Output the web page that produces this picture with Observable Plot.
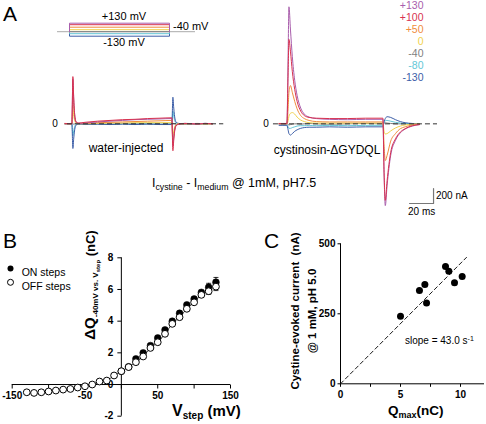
<!DOCTYPE html>
<html><head><meta charset="utf-8">
<script src="https://cdn.jsdelivr.net/npm/d3@7"></script>
<script src="https://cdn.jsdelivr.net/npm/@observablehq/plot@0.6"></script>
<style>
html,body{margin:0;padding:0;background:#fff;}
#fig{position:relative;width:486px;height:424px;overflow:hidden;font-family:Arial,"Liberation Sans",sans-serif;color:#000;}
.t{position:absolute;white-space:nowrap;line-height:1;}
.rot{position:absolute;white-space:nowrap;text-align:center;transform:translate(-50%,-50%) rotate(-90deg);}
.s{font-size:0.7em;vertical-align:-0.3em;line-height:0;}
.u{font-size:0.7em;vertical-align:0.45em;line-height:0;}
</style></head><body><div id="fig"></div>
<script>
// ---------- DATA ----------
const voltages = [130, 100, 50, 0, -40, -80, -130];
const voltageLabels = ["+130", "+100", "+50", "0", "-40", "-80", "-130"];
const voltageColors = ["#a95eac", "#d8324f", "#f08c3c", "#f1d24c", "#7f7f7f", "#63c7d7", "#3c5ea8"];
const holdingMV = -40, stepStartMs = 0, stepEndMs = 80;

// water-injected oocyte traces (nA) vs time (ms)
const tWater = [-6, -0.5, 0.3, 1, 2, 3, 5, 10, 20, 30, 40, 50, 60, 70, 79.5, 80.3, 81, 82, 83, 85, 90, 100, 106, 112];
const water_p130 = [0, 0, 600, 320, 80, 20, 5, 10, 25, 35, 45, 55, 60, 65, 70, -300, -180, -60, -20, -5, 5, 0, 5, 0];
const water_p100 = [5, 0, 630, 330, 85, 25, 10, 20, 35, 45, 55, 60, 70, 75, 80, -360, -220, -70, -25, -5, 5, -5, 5, 0];
const water_p50  = [0, 0, 380, 210, 55, 15, 5, 5, 15, 20, 25, 30, 35, 40, 45, -270, -160, -50, -15, 0, 0, 5, 0, 0];
const water_0    = [0, 0, 180, 100, 30, 5, 0, 0, 5, 10, 10, 15, 15, 15, 15, -150, -90, -30, -10, 0, 0, 0, 0, 0];
const water_m40  = [0, 5, 0, -5, 0, 5, 0, 5, 0, -5, 5, 0, 5, -5, 0, 0, 5, 0, -5, 0, 5, 0, -5, 0];
const water_m80  = [0, 0, -160, -90, -25, -5, 0, -5, 0, -5, 0, -5, 0, -5, 0, 170, 100, 30, 10, 0, 0, -5, 0, 0];
const water_m130 = [0, 0, -330, -190, -55, -15, -5, -10, -5, -10, -5, -10, -5, -10, -10, 355, 210, 65, 20, 5, -5, 0, 5, 0];

// cystinosin-ΔGYDQL traces (nA) vs time (ms)
const tCys = [-7, -0.5, 0.5, 1.2, 2.5, 4, 6, 8, 11, 14, 18, 24, 35, 50, 65, 79.5, 80.5, 81.5, 83, 86, 90, 94, 98, 104, 110];
const cys_p130 = [0, 0, 900, 1560, 1250, 900, 580, 380, 210, 130, 90, 70, 60, 55, 60, 60, -700, -1090, -820, -420, -220, -120, -70, -30, -10];
const cys_p100 = [5, 5, 650, 1125, 960, 700, 460, 300, 170, 110, 85, 75, 70, 70, 75, 75, -650, -1020, -760, -380, -200, -110, -65, -25, -10];
const cys_p50  = [0, 0, 200, 420, 510, 420, 300, 200, 110, 70, 45, 30, 25, 25, 25, 25, -300, -490, -420, -230, -130, -65, -40, -15, -5];
const cys_0    = [0, 0, 40, 100, 140, 150, 130, 90, 50, 30, 15, 10, 10, 10, 10, 10, -100, -135, -130, -95, -55, -30, -15, -5, 0];
const cys_m40  = [0, 0, -10, -15, -10, -5, 0, 0, -5, 0, 5, 0, -5, 0, 5, 0, 10, 15, 10, 5, 0, 0, 0, 0, 0];
const cys_m80  = [-10, -10, -40, -60, -60, -50, -40, -30, -25, -25, -20, -25, -20, -25, -20, -20, 20, 40, 45, 35, 20, 10, 5, 0, 0];
const cys_m130 = [-20, -20, -80, -130, -150, -130, -100, -80, -60, -50, -45, -45, -40, -45, -40, -40, 30, 70, 95, 85, 55, 30, 15, 5, 0];

const scaleBarMs = 20, scaleBarNA = 200;

// Panel B: ΔQ (nC) vs Vstep (mV)
const offV = [-130, -120, -110, -100, -90, -80, -70, -60, -50, -40, -30, -20, -10, 0, 10, 20, 30, 40, 50, 60, 70, 80, 90, 100, 110, 120, 130];
const offQ = [-0.49, -0.53, -0.49, -0.44, -0.38, -0.32, -0.28, -0.19, -0.11, 0.0, 0.19, 0.25, 0.57, 0.84, 1.1, 1.41, 1.77, 2.31, 2.67, 3.2, 3.83, 4.25, 4.78, 5.19, 5.66, 5.89, 6.18];
const offErr = [0, 0, 0, 0, 0, 0, 0, 0, 0, 0, 0, 0, 0, 0, 0, 0, 0, 0, 0, 0, 0, 0, 0, 0, 0, 0.2, 0.25];
const onV = [0, 10, 20, 30, 40, 50, 60, 70, 80, 90, 100, 110, 120, 130];
const onQ = [0.84, 1.12, 1.62, 2.0, 2.46, 2.94, 3.45, 4.0, 4.5, 5.03, 5.4, 5.82, 6.14, 6.46];
const onErr = [0, 0, 0, 0, 0, 0, 0, 0, 0, 0, 0, 0, 0.25, 0.3];
const bXTicks = [-150, -100, -50, 0, 50, 100, 150];
const bXLabels = [-150, -50, 50, 150];
const bYTicks = [-2, 0, 2, 4, 6, 8];

// Panel C: current (nA) vs Qmax (nC)
const qMax = [5.0, 6.58, 7.03, 7.17, 8.75, 9.03, 9.5, 10.14];
const cysCurrent = [241, 333, 355, 289, 419, 402, 361, 383];
const slopeC = 43.0;
const slopeLineEnd = 10.5;
const cXTicks = [0, 2.5, 5, 7.5, 10];
const cXLabels = [0, 5, 10];
const cYTicks = [0, 250, 500];

// ---------- HELPERS ----------
const fig = document.getElementById("fig");
const FONT = "Arial, 'Liberation Sans', sans-serif";
function addPlot(opts, left, top) {
  const svg = Plot.plot({...opts, style: {background: "transparent", overflow: "visible", fontFamily: FONT}});
  svg.style.position = "absolute";
  svg.style.left = left + "px";
  svg.style.top = top + "px";
  fig.appendChild(svg);
}
function addText(html, x, baseline, size, o = {}) {
  const d = document.createElement("div");
  d.className = "t";
  d.innerHTML = html;
  d.style.left = x + "px";
  d.style.top = (baseline - 0.847 * size) + "px";
  d.style.fontSize = size + "px";
  d.style.fontWeight = o.weight || "normal";
  d.style.color = o.color || "#000";
  if (o.anchor === "middle") d.style.transform = "translateX(-50%)";
  if (o.anchor === "end") d.style.transform = "translateX(-100%)";
  fig.appendChild(d);
}
function addRot(html, cx, cy, size, lh, weight) {
  const d = document.createElement("div");
  d.className = "rot";
  d.innerHTML = html;
  d.style.left = cx + "px";
  d.style.top = cy + "px";
  d.style.fontSize = size + "px";
  d.style.lineHeight = lh + "px";
  d.style.fontWeight = weight || "normal";
  fig.appendChild(d);
}
const tickDown = {draw(c) { c.moveTo(0, 0); c.lineTo(0, 4); }};
const tickDown3 = {draw(c) { c.moveTo(0, 0); c.lineTo(0, 3); }};
const tickLeft = {draw(c) { c.moveTo(0, 0); c.lineTo(-4, 0); }};
const tickLeft3 = {draw(c) { c.moveTo(0, 0); c.lineTo(-3, 0); }};
const capH = {draw(c) { c.moveTo(-2.5, 0); c.lineTo(2.5, 0); }};

function traceMarks(times, series) {
  const order = [4, 5, 6, 3, 2, 0, 1];
  return order.map(k => Plot.line(times.map((t, j) => ({t, i: series[k][j]})),
    {x: "t", y: "i", stroke: voltageColors[k], strokeWidth: 1, curve: "monotone-x"}));
}

// ---------- PANEL A: protocol ----------
const protoLines = voltages.map((v, k) => ({
  k, pts: [{t: stepStartMs, v: holdingMV}, {t: stepStartMs, v}, {t: stepEndMs, v}, {t: stepEndMs, v: holdingMV}]
}));
addPlot({
  width: 160, height: 35, margin: 0,
  x: {domain: [-15.2, 112.8], axis: null},
  y: {domain: [-316, 384], axis: null},
  marks: [
    Plot.ruleY([holdingMV], {x1: -9.6, x2: 100.8, stroke: "#aaa", strokeWidth: 1}),
    ...[6, 5, 4, 3, 2, 1, 0].map(k => Plot.line(protoLines[k].pts, {x: "t", y: "v", stroke: voltageColors[k], strokeWidth: 1}))
  ]
}, 50, 10);

// ---------- PANEL A: water-injected ----------
addPlot({
  width: 170, height: 100, margin: 0,
  x: {domain: [-8, 128], axis: null},
  y: {domain: [-490, 845], axis: null},
  marks: [
    ...traceMarks(tWater, [water_p130, water_p100, water_p50, water_0, water_m40, water_m80, water_m130]),
    Plot.ruleY([0], {x1: -4, x2: 121, stroke: "#333", strokeWidth: 1, strokeDasharray: "5,3"})
  ]
}, 62, 60);

// ---------- PANEL A: cystinosin ----------
const sbX = 121.7, sbY = -1062;
addPlot({
  width: 200, height: 215, margin: 0,
  x: {domain: [-20.83, 145.83], axis: null},
  y: {domain: [-1222, 1644], axis: null},
  marks: [
    ...traceMarks(tCys, [cys_p130, cys_p100, cys_p50, cys_0, cys_m40, cys_m80, cys_m130]),
    Plot.ruleY([0], {x1: -11.7, x2: 125, stroke: "#333", strokeWidth: 1, strokeDasharray: "5,3"}),
    Plot.line([{t: sbX - scaleBarMs, i: sbY}, {t: sbX, i: sbY}, {t: sbX, i: sbY + scaleBarNA}],
      {x: "t", y: "i", stroke: "#777", strokeWidth: 1.2})
  ]
}, 262, 0);

// ---------- PANEL B ----------
const offData = offV.map((v, j) => ({v, q: offQ[j], e: offErr[j]}));
const onData = onV.map((v, j) => ({v, q: onQ[j], e: onErr[j]}));
const bText = {fontWeight: "bold", fontSize: 10, fill: "#000"};
addPlot({
  width: 245, height: 224,
  marginLeft: 11.7, marginRight: 15, marginTop: 57.3, marginBottom: 8.3,
  x: {domain: [-150, 150], axis: null},
  y: {domain: [-2, 8], axis: null},
  marks: [
    Plot.ruleY([0], {stroke: "#000", strokeWidth: 1}),
    Plot.ruleX([0], {stroke: "#000", strokeWidth: 1}),
    Plot.dot(bXTicks, {x: d => d, y: 0, symbol: tickDown, fill: "none", stroke: "#000", strokeWidth: 1}),
    Plot.dot(bYTicks, {x: 0, y: d => d, symbol: tickLeft, fill: "none", stroke: "#000", strokeWidth: 1}),
    Plot.text(bXLabels, {x: d => d, y: 0, dy: 11, text: d => String(d), ...bText}),
    Plot.text(bYTicks, {x: 0, y: d => d, dx: -8, textAnchor: "end", text: d => String(d), ...bText}),
    Plot.line(offData, {x: "v", y: "q", stroke: "#000", strokeWidth: 0.7, curve: "monotone-x"}),
    Plot.ruleX(onData.filter(d => d.e > 0), {x: "v", y1: d => d.q - d.e, y2: d => d.q + d.e, stroke: "#000", strokeWidth: 0.8}),
    Plot.dot(onData.filter(d => d.e > 0), {x: "v", y: d => d.q + d.e, symbol: capH, fill: "none", stroke: "#000", strokeWidth: 0.8}),
    Plot.ruleX(offData.filter(d => d.e > 0), {x: "v", y1: d => d.q - d.e, y2: d => d.q + d.e, stroke: "#000", strokeWidth: 0.8}),
    Plot.dot(offData.filter(d => d.e > 0), {x: "v", y: d => d.q - d.e, symbol: capH, fill: "none", stroke: "#000", strokeWidth: 0.8}),
    Plot.dot(onData, {x: "v", y: "q", r: 3.4, fill: "#000", stroke: "#000", strokeWidth: 0.5}),
    Plot.dot(offData, {x: "v", y: "q", r: 3.4, fill: "#fff", stroke: "#000", strokeWidth: 1}),
    // legend
    Plot.dot([0], {frameAnchor: "top-left", dx: -1.7, dy: 10.7, r: 3, fill: "#000"}),
    Plot.dot([0], {frameAnchor: "top-left", dx: -1.7, dy: 24.5, r: 3, fill: "#fff", stroke: "#000", strokeWidth: 1}),
    Plot.text(["ON steps"], {frameAnchor: "top-left", dx: 9.5, dy: 10.7, textAnchor: "start", text: d => d, fontSize: 10.5, fill: "#000"}),
    Plot.text(["OFF steps"], {frameAnchor: "top-left", dx: 9.5, dy: 24.5, textAnchor: "start", text: d => d, fontSize: 10.5, fill: "#000"})
  ]
}, 0, 200);

// ---------- PANEL C ----------
const cData = qMax.map((q, j) => ({q, i: cysCurrent[j]}));
addPlot({
  width: 246, height: 224,
  marginLeft: 100, marginRight: 2, marginTop: 43.3, marginBottom: 40.7,
  x: {domain: [0, 12], axis: null},
  y: {domain: [0, 500], axis: null},
  marks: [
    Plot.ruleY([0], {stroke: "#000", strokeWidth: 1}),
    Plot.ruleX([0], {stroke: "#000", strokeWidth: 1}),
    Plot.dot(cXTicks, {x: d => d, y: 0, symbol: tickDown3, fill: "none", stroke: "#000", strokeWidth: 1}),
    Plot.dot(cYTicks, {x: 0, y: d => d, symbol: tickLeft3, fill: "none", stroke: "#000", strokeWidth: 1}),
    Plot.text(cXLabels, {x: d => d, y: 0, dy: 11, text: d => String(d), ...bText}),
    Plot.text(cYTicks, {x: 0, y: d => d, dx: -5, textAnchor: "end", text: d => String(d), ...bText}),
    Plot.line([0, slopeLineEnd].map(q => ({q, i: q * slopeC})), {x: "q", y: "i", stroke: "#000", strokeWidth: 0.9, strokeDasharray: "4,3"}),
    Plot.dot(cData, {x: "q", y: "i", r: 3.5, fill: "#000"})
  ]
}, 240, 200);

// ---------- TEXT ----------
addText("A", 3, 20.5, 21);
addText("+130 mV", 124, 20, 11, {anchor: "middle"});
addText("-40 mV", 173, 30.5, 11);
addText("-130 mV", 124, 46.5, 11, {anchor: "middle"});
addText("0", 55, 127, 10, {anchor: "middle"});
addText("0", 266, 127, 10, {anchor: "middle"});
addText("water-injected", 126, 152.5, 12, {anchor: "middle"});
addText("cystinosin-ΔGYDQL", 327, 154, 12, {anchor: "middle"});
voltageLabels.forEach((lab, k) => addText(lab, 423.5, 8.8 + k * 12, 10.5, {anchor: "end", color: voltageColors[k]}));
addText('I<span class="s">cystine</span> - I<span class="s">medium</span> @ 1mM, pH7.5', 152, 188, 12.5);
addText("200 nA", 436, 199, 10);
addText("20 ms", 408, 215.5, 10);
addText("B", 3, 248, 21);
addText("C", 264, 248, 21);
addRot('<span style="font-size:15px">ΔQ</span><span style="font-size:8px;vertical-align:-3px;line-height:0">-40mV vs. V<span style="font-size:6px;vertical-align:-2px">step</span></span><span style="font-size:13px"> (nC)</span>', 89.5, 285, 15, 15, "bold");
addText('V<span style="font-size:10px;vertical-align:-3px;line-height:0">step</span><span style="font-size:15px">&nbsp;(mV)</span>', 172, 416.5, 16, {weight: "bold"});
addRot('Cystine-evoked current&nbsp;&nbsp;(nA)<br>@ 1 mM, pH 5.0', 303.5, 311, 11.5, 17, "bold");
addText('Q<span style="font-size:9px;vertical-align:-3px;line-height:0">max</span>(nC)', 388, 415, 13.5, {weight: "bold"});
addText('slope = 43.0 s<span class="u">-1</span>', 405, 344, 10);
</script></body></html>
